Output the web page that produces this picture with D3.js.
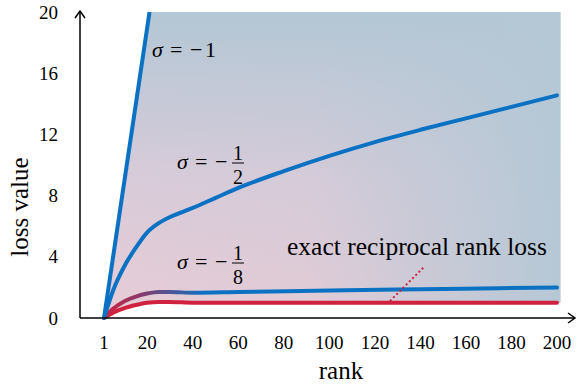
<!DOCTYPE html>
<html>
<head>
<meta charset="utf-8">
<script src="https://cdn.jsdelivr.net/npm/d3@7"></script>
<style>
  body { margin: 0; background: #fff; }
  svg { display: block; }
</style>
</head>
<body>
<div id="chart"></div>
<script>
// tick labels
const xTicks = [1, 20, 40, 60, 80, 100, 120, 140, 160, 180, 200];
const yTicks = [0, 4, 8, 12, 16, 20];

// sigma = -1 : straight line
const rankNeg1 = [1, 21];
const lossNeg1 = [0, 20];

// sigma = -1/2
const rankHalf = [1, 5, 10, 15, 20, 25, 30, 35, 40, 50, 60, 80, 100, 120, 140, 160, 180, 200];
const lossHalf = [0, 1.8, 3.4, 4.6, 5.6, 6.2, 6.6, 6.9, 7.2, 7.85, 8.5, 9.6, 10.6, 11.5, 12.3, 13.05, 13.8, 14.55];

// sigma = -1/8
const rankEighth = [1, 5, 10, 15, 20, 25, 30, 40, 60, 100, 150, 200];
const lossEighth = [0, 0.6, 1.1, 1.4, 1.6, 1.7, 1.7, 1.65, 1.7, 1.8, 1.9, 2.0];

// exact reciprocal rank loss
const rankExact = [1, 5, 10, 15, 20, 25, 30, 40, 60, 100, 150, 200];
const lossExact = [0, 0.35, 0.65, 0.85, 1.0, 1.05, 1.05, 1.0, 1.0, 1.0, 1.0, 1.0];

const fillEndRank = 201.5;

const W = 578, H = 386;
const BLUE = "#0b71c3", RED = "#d0223f";
const serif = "'Liberation Serif', 'Times New Roman', serif";

const svg = d3.select("#chart").append("svg")
  .attr("width", W).attr("height", H)
  .style("font-family", serif);

const x = d3.scaleLinear().domain([1, 200]).range([104, 557]);
const y = d3.scaleLinear().domain([0, 20]).range([318, 12]);

const zip = (xs, ys) => xs.map((r, i) => [r, ys[i]]);
const half = zip(rankHalf, lossHalf);
const eighth = zip(rankEighth, lossEighth);
const exact = zip(rankExact, lossExact);
const neg1 = zip(rankNeg1, lossNeg1);

const defs = svg.append("defs");

// vertical pink -> blue
const gV = defs.append("linearGradient").attr("id", "gV")
  .attr("x1", 0).attr("y1", 1).attr("x2", 0).attr("y2", 0);
gV.append("stop").attr("offset", 0).attr("stop-color", "#e7ccd6");
gV.append("stop").attr("offset", 0.45).attr("stop-color", "#d9cbd9");
gV.append("stop").attr("offset", 1).attr("stop-color", "#b3c7d5");

// horizontal overlay, blue towards the right
const gH = defs.append("linearGradient").attr("id", "gH")
  .attr("x1", 0).attr("y1", 0).attr("x2", 1).attr("y2", 0);
gH.append("stop").attr("offset", 0).attr("stop-color", "#b5c8d6").attr("stop-opacity", 0);
gH.append("stop").attr("offset", 0.45).attr("stop-color", "#b5c8d6").attr("stop-opacity", 0.1);
gH.append("stop").attr("offset", 1).attr("stop-color", "#b5c8d6").attr("stop-opacity", 1);

// stroke gradient for sigma = -1/8 (red to blue)
const gS = defs.append("linearGradient").attr("id", "gS")
  .attr("gradientUnits", "userSpaceOnUse")
  .attr("x1", x(1)).attr("y1", 0).attr("x2", x(45)).attr("y2", 0);
gS.append("stop").attr("offset", 0).attr("stop-color", RED);
gS.append("stop").attr("offset", 0.35).attr("stop-color", "#8a3a6a");
gS.append("stop").attr("offset", 1).attr("stop-color", BLUE);

// shaded region between sigma=-1 line, top, right edge and exact loss
const region = [
  ...neg1,
  [fillEndRank, 20],
  [fillEndRank, lossExact[lossExact.length - 1]],
  ...exact.slice().reverse()
];
const regionPath = d3.line().x(d => x(d[0])).y(d => y(d[1]))(region) + "Z";
svg.append("path").attr("d", regionPath).attr("fill", "url(#gV)");
svg.append("path").attr("d", regionPath).attr("fill", "url(#gH)");

const line = d3.line().x(d => x(d[0])).y(d => y(d[1])).curve(d3.curveMonotoneX);

svg.append("path").attr("d", line(exact))
  .attr("fill", "none").attr("stroke", RED).attr("stroke-width", 4).attr("stroke-linecap", "round");
svg.append("path").attr("d", line(eighth))
  .attr("fill", "none").attr("stroke", "url(#gS)").attr("stroke-width", 4).attr("stroke-linecap", "round");
svg.append("path").attr("d", line(half))
  .attr("fill", "none").attr("stroke", BLUE).attr("stroke-width", 4).attr("stroke-linecap", "round");
svg.append("path").attr("d", d3.line().x(d => x(d[0])).y(d => y(d[1]))(neg1))
  .attr("fill", "none").attr("stroke", BLUE).attr("stroke-width", 4);

// axes
const ax = svg.append("g").attr("stroke", "#000").attr("stroke-width", 1.5).attr("fill", "none");
ax.append("line").attr("x1", 80).attr("y1", y(0)).attr("x2", 80).attr("y2", y(20) - 1);
ax.append("path").attr("d", `M75,${y(20) + 6}L80,${y(20) - 1}L85,${y(20) + 6}`);
ax.append("line").attr("x1", 80).attr("y1", y(0)).attr("x2", 575).attr("y2", y(0));
ax.append("path").attr("d", `M568,${y(0) - 5}L575,${y(0)}L568,${y(0) + 5}`);

svg.append("g").selectAll("text").data(yTicks).join("text")
  .attr("x", 58).attr("y", d => y(d)).attr("dy", "0.35em")
  .attr("text-anchor", "end").attr("font-size", 19).text(d => d);

svg.append("g").selectAll("text").data(xTicks).join("text")
  .attr("x", d => x(d)).attr("y", 342).attr("dy", "0.35em")
  .attr("text-anchor", "middle").attr("font-size", 19).text(d => d);

svg.append("text").attr("x", 341).attr("y", 379).attr("text-anchor", "middle")
  .attr("font-size", 25).text("rank");
svg.append("text").attr("transform", "translate(28,207) rotate(-90)")
  .attr("text-anchor", "middle").attr("font-size", 25).text("loss value");

// annotation
svg.append("text").attr("x", 287).attr("y", 255).attr("font-size", 25.5)
  .text("exact reciprocal rank loss");
svg.append("line").attr("x1", 390).attr("y1", 301).attr("x2", 424).attr("y2", 267)
  .attr("stroke", RED).attr("stroke-width", 2).attr("stroke-dasharray", "2,2.5");

// sigma labels
function sigmaLabel(px, py, num, den) {
  const g = svg.append("g").attr("font-size", 22);
  g.append("text").attr("x", px).attr("y", py).attr("font-style", "italic").text("σ");
  g.append("text").attr("x", px + 18).attr("y", py).text("=");
  g.append("text").attr("x", px + 38).attr("y", py).text("−");
  if (!den) {
    g.append("text").attr("x", px + 53).attr("y", py).text(num);
  } else {
    const fx = px + 61;
    g.append("text").attr("x", fx).attr("y", py - 9).attr("text-anchor", "middle")
      .attr("font-size", 20).text(num);
    g.append("line").attr("x1", fx - 6).attr("x2", fx + 6)
      .attr("y1", py - 6).attr("y2", py - 6).attr("stroke", "#000").attr("stroke-width", 1);
    g.append("text").attr("x", fx).attr("y", py + 15).attr("text-anchor", "middle")
      .attr("font-size", 20).text(den);
  }
}
sigmaLabel(152, 57, "1");
sigmaLabel(177, 169, "1", "2");
sigmaLabel(177, 269, "1", "8");
</script>
</body>
</html>
